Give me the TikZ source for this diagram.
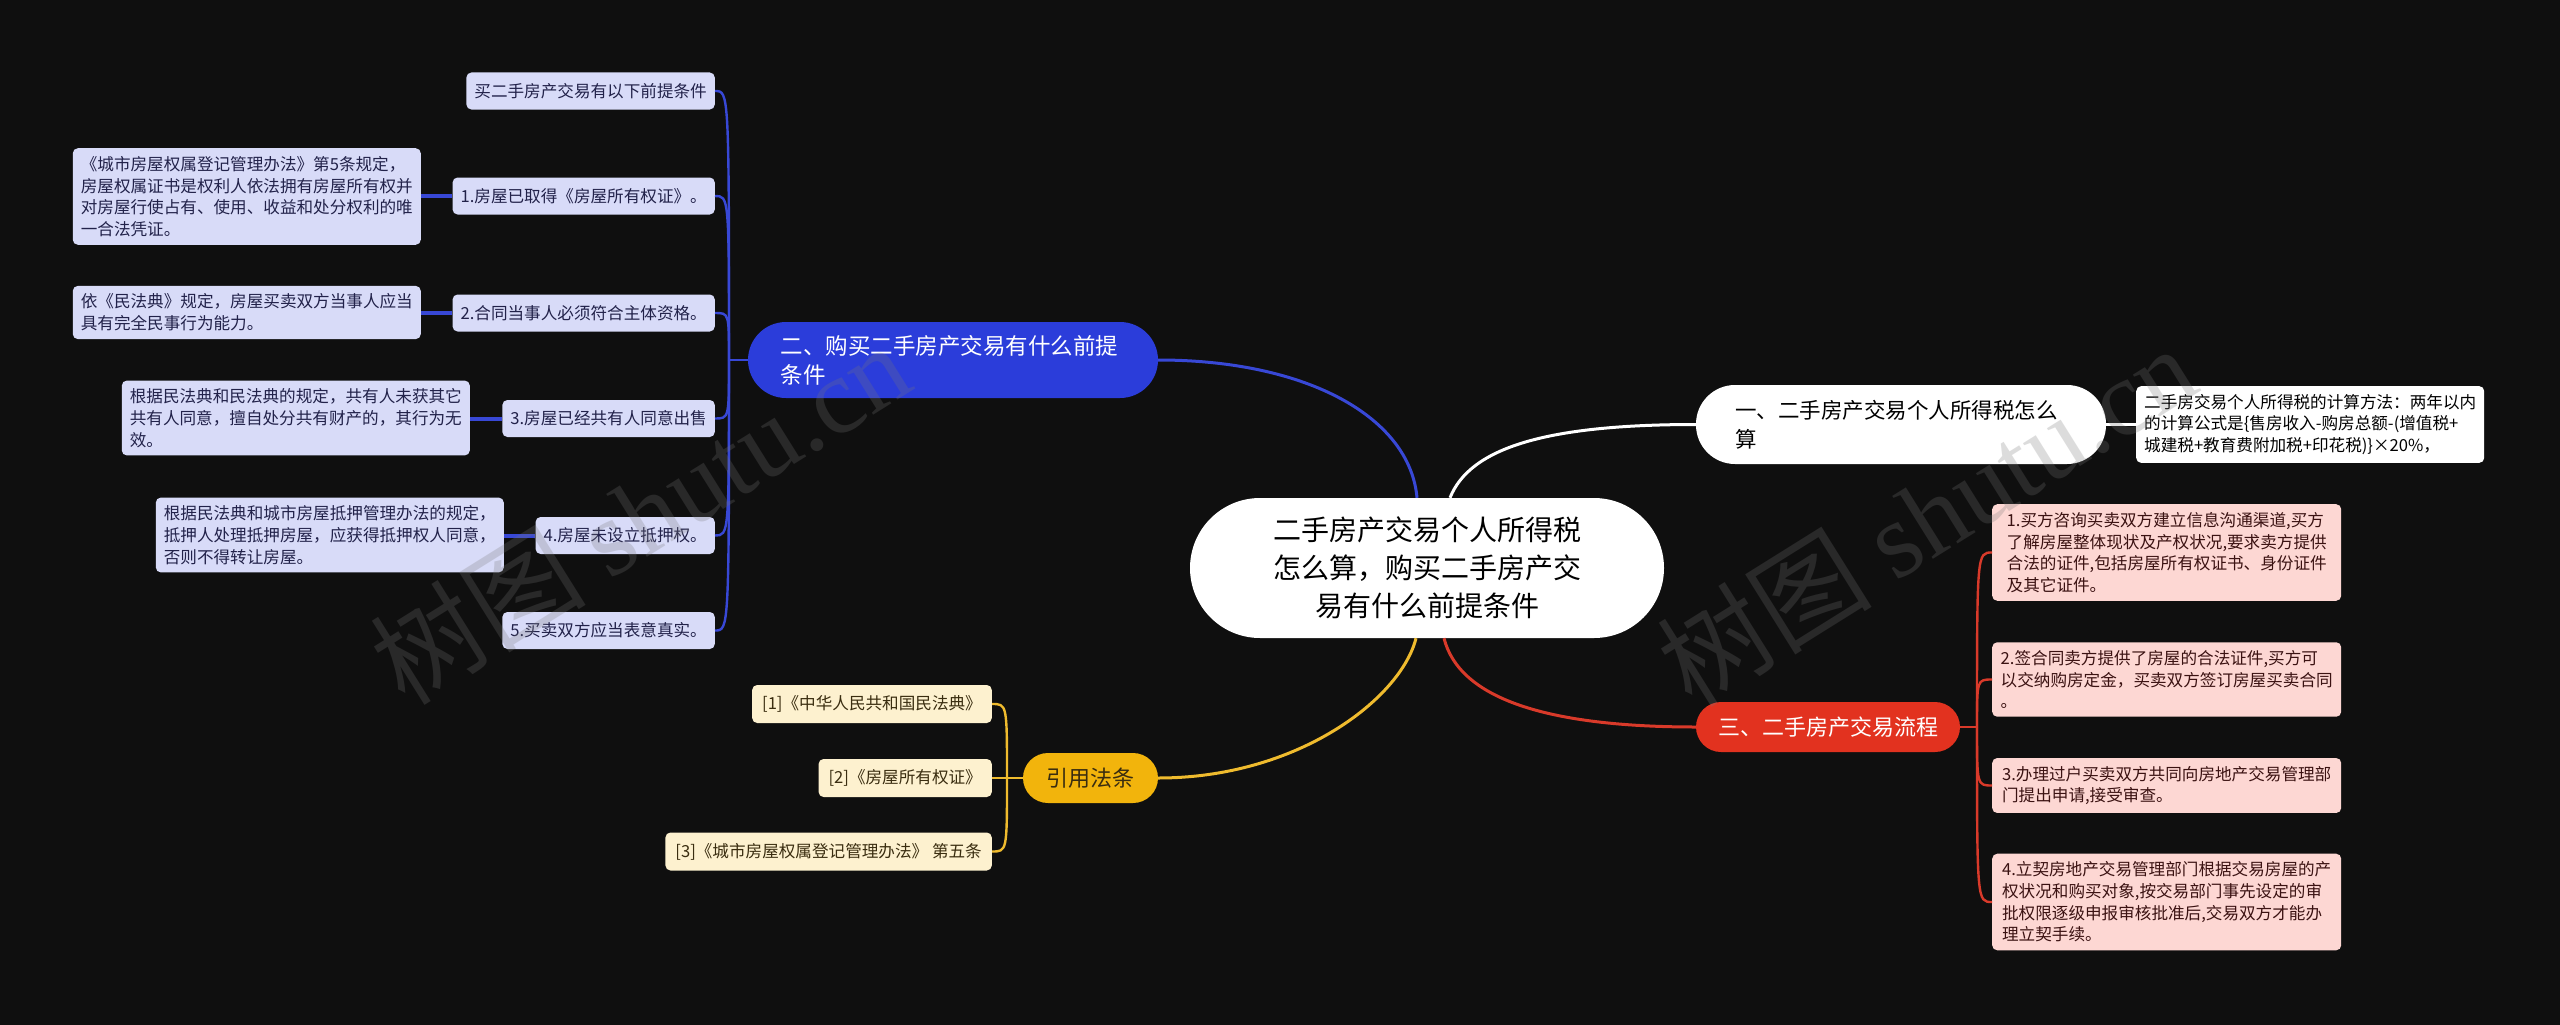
\documentclass[tikz,border=0pt]{standalone}
\usepackage{fontspec}
\setmainfont{Noto Sans CJK SC}
\newfontfamily\wmlatin{Liberation Serif}
\definecolor{bgc}{HTML}{0F0F0F}
\definecolor{bluem}{HTML}{2B3DDA}
\definecolor{bluel}{HTML}{D8DBF8}
\definecolor{bluet}{HTML}{22224A}
\definecolor{blueline}{HTML}{3848D6}
\definecolor{redm}{HTML}{E2321F}
\definecolor{redl}{HTML}{FDD7D3}
\definecolor{redt}{HTML}{3B1212}
\definecolor{redline}{HTML}{D93A2A}
\definecolor{yelm}{HTML}{F2B40C}
\definecolor{yell}{HTML}{FDF1CF}
\definecolor{yelt}{HTML}{3A2D10}
\definecolor{yelline}{HTML}{EFBB2E}
\definecolor{wmc}{HTML}{777777}
\begin{document}
\begin{tikzpicture}[x=1pt,y=-1pt,
  small/.style={font=\fontsize{16.6}{21.7}\selectfont},
  central/.style={fill=white, rounded corners=70pt, minimum width=474pt, minimum height=140pt, text width=330pt, align=center, font=\fontsize{28}{38}\selectfont, text=black, inner sep=0pt},
  bigbox/.style={rounded corners=38pt, minimum height=76pt, align=left, font=\fontsize{22.5}{29}\selectfont, inner sep=0pt},
  midbox/.style={rounded corners=25pt, minimum height=50pt, font=\fontsize{22}{28}\selectfont, inner sep=0pt},
  bchild/.style={fill=bluel, rounded corners=5pt, small, text=bluet, inner xsep=8pt, minimum height=37pt, anchor=east},
  bdet/.style={fill=bluel, rounded corners=5pt, small, text=bluet, inner xsep=8pt, inner ysep=8pt, align=left, anchor=east},
  rchild/.style={fill=redl, rounded corners=5pt, small, text=redt, inner xsep=8pt, inner ysep=8pt, align=left, anchor=west, minimum width=349pt},
  ychild/.style={fill=yell, rounded corners=5pt, small, text=yelt, inner xsep=10pt, minimum height=38pt, anchor=east},
  wdet/.style={fill=white, rounded corners=5pt, small, text=black, inner xsep=8pt, inner ysep=8pt, align=left},
  mainline/.style={line width=3pt},
  subline/.style={line width=2.4pt},
  detline/.style={line width=4pt},
  wm/.style={text=wmc, text opacity=0.25, font=\fontsize{108}{108}\selectfont, rotate=32}
]
\fill[bgc] (0,0) rectangle (2560,1025);
\useasboundingbox (0,0) rectangle (2560,1025);

% central
\node[central] (c) at (1427,568) {二手房产交易个人所得税\\怎么算，购买二手房产交\\易有什么前提条件};

% main branches
\node[bigbox, fill=bluem, text=white, minimum width=410pt, text width=345pt] (bm) at (953,360) {二、购买二手房产交易有什么前提\\条件};
\node[bigbox, fill=white, text=black, minimum width=410pt, text width=332pt, minimum height=79pt, rounded corners=39pt, font=\fontsize{21.5}{29}\selectfont] (wm1) at (1901,424.5) {一、二手房产交易个人所得税怎么\\算};
\node[midbox, fill=redm, text=white, minimum width=264pt] (rm) at (1828,727) {三、二手房产交易流程};
\node[midbox, fill=yelm, text=yelt, minimum width=135pt] (ym) at (1090.5,778) {引用法条};

% main connectors
\draw[mainline, blueline] (bm.east) .. controls +(150,0) and +(-7,-80) .. ([xshift=-10pt]c.north);
\draw[mainline, white] ([xshift=23pt]c.north) .. controls +(20,-50) and +(-150,0) .. (wm1.west);
\draw[mainline, yelline] ([xshift=-11pt]c.south) .. controls +(-15,60) and +(140,0) .. (ym.east);
\draw[mainline, redline] ([xshift=17pt]c.south) .. controls +(15,60) and +(-150,0) .. (rm.west);

% blue children
\node[bchild] (b0) at (715,91) {买二手房产交易有以下前提条件};
\node[bchild] (b1) at (715,196) {1.房屋已取得《房屋所有权证》。};
\node[bchild] (b2) at (715,313) {2.合同当事人必须符合主体资格。};
\node[bchild] (b3) at (715,418.5) {3.房屋已经共有人同意出售};
\node[bchild] (b4) at (715,535.5) {4.房屋未设立抵押权。};
\node[bchild] (b5) at (715,630.5) {5.买卖双方应当表意真实。};

\node[bdet] (d1) at (421,196.5) {《城市房屋权属登记管理办法》第5条规定，\\房屋权属证书是权利人依法拥有房屋所有权并\\对房屋行使占有、使用、收益和处分权利的唯\\一合法凭证。};
\node[bdet] (d2) at (421,312.5) {依《民法典》规定，房屋买卖双方当事人应当\\具有完全民事行为能力。};
\node[bdet] (d3) at (470,418) {根据民法典和民法典的规定，共有人未获其它\\共有人同意，擅自处分共有财产的，其行为无\\效。};
\node[bdet] (d4) at (504,535) {根据民法典和城市房屋抵押管理办法的规定，\\抵押人处理抵押房屋，应获得抵押权人同意，\\否则不得转让房屋。};

\coordinate (bh) at (729,360);
\draw[subline, blueline] (bm.west) -- (bh);
\foreach \n in {b0,b1,b2,b3,b4,b5}{
  \draw[subline, blueline] (bh) .. controls (bh |- \n.east) and (bh |- \n.east) .. (\n.east);
}
\draw[detline, blueline] (b1.west) -- (d1.east |- b1.west);
\draw[detline, blueline] (b2.west) -- (d2.east |- b2.west);
\draw[detline, blueline] (b3.west) -- (d3.east |- b3.west);
\draw[detline, blueline] (b4.west) -- (d4.east |- b4.west);

% white detail
\node[wdet, anchor=west] (w1) at (2136,424.5) {二手房交易个人所得税的计算方法：两年以内\\的计算公式是\{售房收入-购房总额-(增值税+\\城建税+教育费附加税+印花税)\}×20\%，};
\draw[subline, white] (wm1.east) -- (w1.west);

% red children
\node[rchild] (r1) at (1992,552.5) {1.买方咨询买卖双方建立信息沟通渠道,买方\\了解房屋整体现状及产权状况,要求卖方提供\\合法的证件,包括房屋所有权证书、身份证件\\及其它证件。};
\node[rchild] (r2) at (1992,679.5) {2.签合同卖方提供了房屋的合法证件,买方可\\以交纳购房定金，买卖双方签订房屋买卖合同\\。};
\node[rchild] (r3) at (1992,785.5) {3.办理过户买卖双方共同向房地产交易管理部\\门提出申请,接受审查。};
\node[rchild] (r4) at (1992,902) {4.立契房地产交易管理部门根据交易房屋的产\\权状况和购买对象,按交易部门事先设定的审\\批权限逐级申报审核批准后,交易双方才能办\\理立契手续。};
\coordinate (rh) at (1977,727);
\draw[subline, redline] (rm.east) -- (rh);
\foreach \n in {r1,r2,r3,r4}{
  \draw[subline, redline] (rh) .. controls (rh |- \n.west) and (rh |- \n.west) .. (\n.west);
}

% yellow children
\node[ychild] (y1) at (992,704) {[1]《中华人民共和国民法典》};
\node[ychild] (y2) at (992,778) {[2]《房屋所有权证》};
\node[ychild] (y3) at (992,851.5) {[3]《城市房屋权属登记管理办法》 第五条};
\coordinate (yh) at (1007,778);
\draw[subline, yelline] (ym.west) -- (yh);
\foreach \n in {y1,y2,y3}{
  \draw[subline, yelline] (yh) .. controls (yh |- \n.east) and (yh |- \n.east) .. (\n.east);
}

% watermarks
\node[wm] (wmA) at (640,513) {树图 {\wmlatin shutu.cn}};
\node[wm] (wmB) at (1926,515) {树图 {\wmlatin shutu.cn}};
\end{tikzpicture}
\end{document}
